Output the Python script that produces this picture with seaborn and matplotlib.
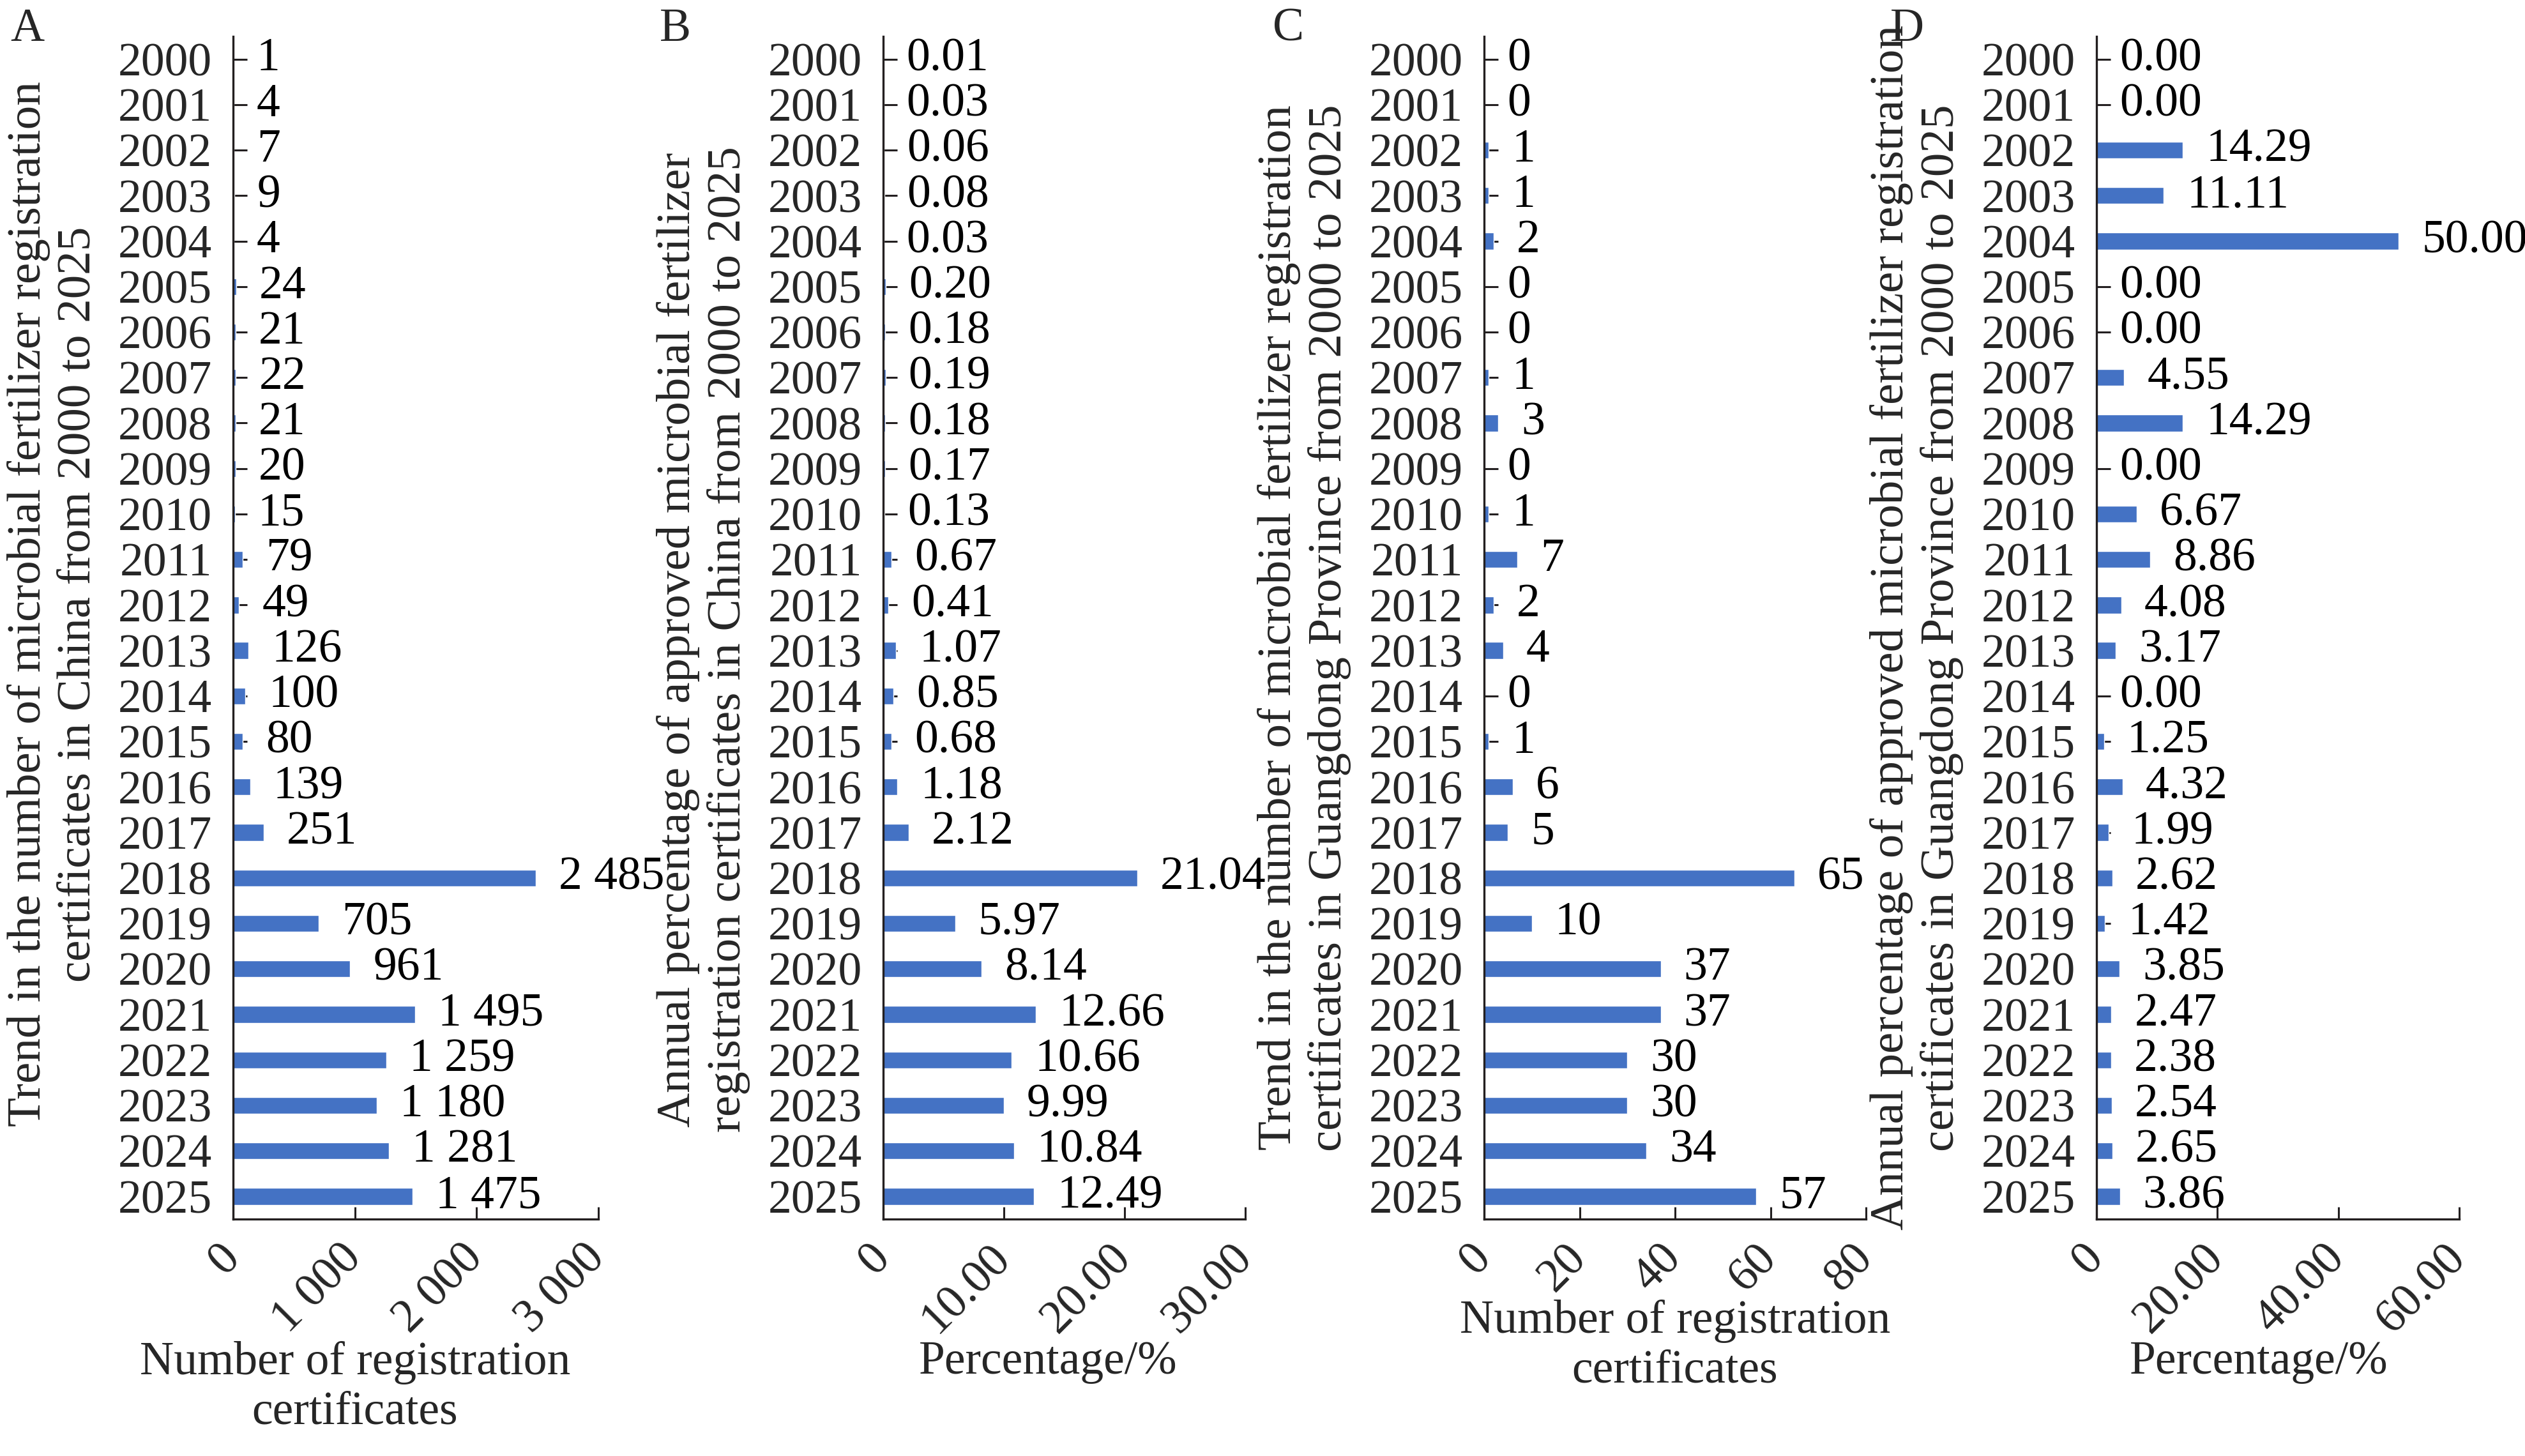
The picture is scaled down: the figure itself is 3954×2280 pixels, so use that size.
import pandas as pd
import matplotlib.pyplot as plt
import seaborn as sns

# ---- data ----
years = ['2000', '2001', '2002', '2003', '2004', '2005', '2006', '2007', '2008',
         '2009', '2010', '2011', '2012', '2013', '2014', '2015', '2016', '2017',
         '2018', '2019', '2020', '2021', '2022', '2023', '2024', '2025']
china_counts = [1, 4, 7, 9, 4, 24, 21, 22, 21, 20, 15, 79, 49, 126, 100, 80, 139,
                251, 2485, 705, 961, 1495, 1259, 1180, 1281, 1475]
china_pct = [0.01, 0.03, 0.06, 0.08, 0.03, 0.20, 0.18, 0.19, 0.18, 0.17, 0.13,
             0.67, 0.41, 1.07, 0.85, 0.68, 1.18, 2.12, 21.04, 5.97, 8.14, 12.66,
             10.66, 9.99, 10.84, 12.49]
gd_counts = [0, 0, 1, 1, 2, 0, 0, 1, 3, 0, 1, 7, 2, 4, 0, 1, 6, 5, 65, 10, 37,
             37, 30, 30, 34, 57]
gd_pct = [0.00, 0.00, 14.29, 11.11, 50.00, 0.00, 0.00, 4.55, 14.29, 0.00, 6.67,
          8.86, 4.08, 3.17, 0.00, 1.25, 4.32, 1.99, 2.62, 1.42, 3.85, 2.47, 2.38,
          2.54, 2.65, 3.86]

count_ticks_a = [0, 1000, 2000, 3000]
count_ticks_c = [0, 20, 40, 60, 80]
pct_ticks_b = [0, 10, 20, 30]
pct_ticks_d = [0, 20, 40, 60]

BAR_COLOR = '#4472C4'
INK = '#231F20'
FS = 53
W, H = 3955, 2280


def fmt_count(v):
    return f'{v:,}'.replace(',', ' ')


def fmt_pct(v):
    return f'{v:.2f}'


def tick_text(t, kind):
    if t == 0:
        return '0'
    return fmt_count(t) if kind == 'count' else f'{t:.2f}'


panels = [
    dict(letter='A', vals=china_counts, ticks=count_ticks_a, kind='count',
         left=365, right=937, letter_x=16, ly=0.52,
         ylabel='Trend in the number of microbial fertilizer registration\n'
                'certificates in China from 2000 to 2025',
         xlabel='Number of registration\ncertificates', xl=(0.334, -0.103)),
    dict(letter='B', vals=china_pct, ticks=pct_ticks_b, kind='pct',
         left=1383, right=1950, letter_x=1033, ly=0.49,
         ylabel='Annual percentage of approved microbial fertilizer\n'
                'registration certificates in China from 2000 to 2025',
         xlabel='Percentage/%', xl=(0.455, -0.103)),
    dict(letter='C', vals=gd_counts, ticks=count_ticks_c, kind='count',
         left=2324, right=2922, letter_x=1993, ly=0.5,
         ylabel='Trend in the number of microbial fertilizer registration\n'
                'certificates in Guangdong Province from 2000 to 2025',
         xlabel='Number of registration\ncertificates', xl=(0.5, -0.068)),
    dict(letter='D', vals=gd_pct, ticks=pct_ticks_d, kind='pct',
         left=3283, right=3851, letter_x=2960, ly=0.5,
         ylabel='Annual percentage of approved microbial fertilizer registration\n'
                'certificates in Guangdong Province from 2000 to 2025',
         xlabel='Percentage/%', xl=(0.447, -0.103)),
]

sns.set_style('ticks')
plt.rcParams['font.family'] = ['Liberation Serif', 'DejaVu Serif']
plt.rcParams['axes.linewidth'] = 2.4
plt.rcParams['axes.edgecolor'] = INK

fig = plt.figure(figsize=(W / 100, H / 100), dpi=100)

top_px, bottom_px = 57, 1909
for p in panels:
    ax = fig.add_axes([p['left'] / W, 1 - bottom_px / H,
                       (p['right'] - p['left']) / W, (bottom_px - top_px) / H])
    df = pd.DataFrame({'year': years, 'value': p['vals']})
    sns.barplot(data=df, x='value', y='year', orient='h', color=BAR_COLOR,
                saturation=1, width=0.37, errorbar=None, ax=ax)

    fmt = fmt_count if p['kind'] == 'count' else fmt_pct
    ax.bar_label(ax.containers[0], labels=[fmt(v) for v in p['vals']],
                 padding=26, fontsize=FS, color='black')

    ax.set_xlim(0, p['ticks'][-1])
    ax.set_ylim(25.5, -0.5)
    ax.set_xticks(p['ticks'])
    ax.set_xticklabels([tick_text(t, p['kind']) for t in p['ticks']],
                       rotation=45, ha='right', va='center',
                       rotation_mode='anchor', fontsize=FS)
    ax.tick_params(axis='x', direction='in', length=14, width=2.2,
                   color=INK, pad=37)
    ax.tick_params(axis='y', direction='in', length=16, width=2.2,
                   color=INK, pad=24, labelsize=FS)

    sns.despine(ax=ax)
    ax.set_ylabel(p['ylabel'], fontsize=54, labelpad=20)
    ax.yaxis.label.set_y(p['ly'])
    ax.set_xlabel(p['xlabel'], fontsize=FS)
    ax.xaxis.set_label_coords(*p['xl'])

    fig.text(p['letter_x'] / W, 1 - 12 / H, p['letter'], fontsize=FS,
             ha='left', va='top')

fig.savefig('out.png', dpi=100)
